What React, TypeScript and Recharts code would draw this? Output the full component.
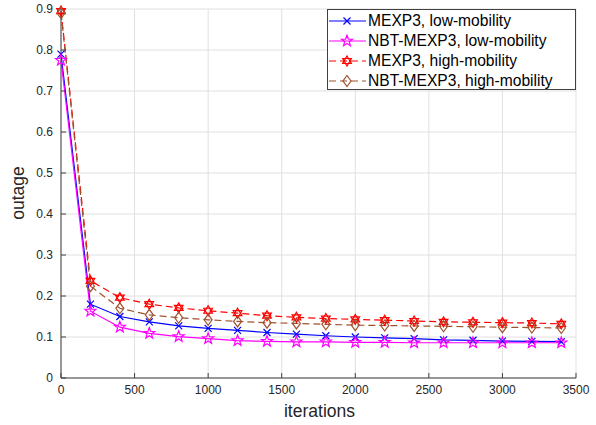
import React from 'react';
import { LineChart, Line, XAxis, YAxis, CartesianGrid } from 'recharts';

const iterations = [0, 200, 400, 600, 800, 1000, 1200, 1400, 1600, 1800, 2000, 2200, 2400, 2600, 2800, 3000, 3200, 3400];
const mexp3Low = [0.79, 0.18, 0.15, 0.137, 0.127, 0.121, 0.116, 0.111, 0.107, 0.103, 0.1, 0.098, 0.096, 0.093, 0.092, 0.09, 0.0895, 0.0885];
const nbtLow = [0.775, 0.163, 0.124, 0.109, 0.101, 0.096, 0.091, 0.0895, 0.088, 0.088, 0.087, 0.087, 0.086, 0.086, 0.086, 0.086, 0.086, 0.086];
const mexp3High = [0.895, 0.237, 0.196, 0.18, 0.171, 0.164, 0.158, 0.152, 0.148, 0.145, 0.143, 0.141, 0.139, 0.137, 0.136, 0.135, 0.134, 0.132];
const nbtHigh = [0.89, 0.224, 0.17, 0.154, 0.147, 0.142, 0.138, 0.135, 0.133, 0.131, 0.129, 0.128, 0.127, 0.126, 0.125, 0.124, 0.123, 0.122];

const xTicks = [0, 500, 1000, 1500, 2000, 2500, 3000, 3500];
const yTicks = [0, 0.1, 0.2, 0.3, 0.4, 0.5, 0.6, 0.7, 0.8, 0.9];

const data = iterations.map((it, i) => ({
    it,
    a: mexp3Low[i],
    b: nbtLow[i],
    c: mexp3High[i],
    d: nbtHigh[i],
}));

const AXIS = '#404040';
const FONT = '"Liberation Sans", Arial, sans-serif';

// marker shapes
const Cross = ({ cx, cy, color }: any) => (
    <path d={`M${cx - 3.5},${cy - 3.5}L${cx + 3.5},${cy + 3.5}M${cx - 3.5},${cy + 3.5}L${cx + 3.5},${cy - 3.5}`} stroke={color} strokeWidth={1.2} fill="none" />
);

const Pentagram = ({ cx, cy, color }: any) => {
    const pts: string[] = [];
    for (let i = 0; i < 10; i++) {
        const r = i % 2 ? 2.4 : 5.8;
        const a = (-90 + i * 36) * Math.PI / 180;
        pts.push(`${cx + r * Math.cos(a)},${cy + r * Math.sin(a)}`);
    }
    return <polygon points={pts.join(' ')} stroke={color} strokeWidth={1.2} fill="none" />;
};

const Hexagram = ({ cx, cy, color }: any) => {
    const tri = (off: number) => {
        const pts: string[] = [];
        for (let i = 0; i < 3; i++) {
            const a = (off + i * 120) * Math.PI / 180;
            pts.push(`${cx + 5 * Math.cos(a)},${cy + 5 * Math.sin(a)}`);
        }
        return pts.join(' ');
    };
    return (
        <g>
            <polygon points={tri(-90)} stroke={color} strokeWidth={1.2} fill="none" />
            <polygon points={tri(90)} stroke={color} strokeWidth={1.2} fill="none" />
        </g>
    );
};

const Diamond = ({ cx, cy, color }: any) => (
    <polygon points={`${cx},${cy - 5.5} ${cx + 4},${cy} ${cx},${cy + 5.5} ${cx - 4},${cy}`} stroke={color} strokeWidth={1.2} fill="none" />
);

const series = [
    { key: 'a', name: 'MEXP3, low-mobility', color: '#0000ff', dash: undefined, Marker: Cross },
    { key: 'b', name: 'NBT-MEXP3, low-mobility', color: '#ff00ff', dash: undefined, Marker: Pentagram },
    { key: 'c', name: 'MEXP3, high-mobility', color: '#ff0000', dash: '7 4', Marker: Hexagram },
    { key: 'd', name: 'NBT-MEXP3, high-mobility', color: '#a0522d', dash: '7 4', Marker: Diamond },
];

const LegendBox = () => (
    <div style={{ position: 'absolute', left: 327, top: 9, width: 249, height: 81, boxSizing: 'border-box', border: `1px solid ${AXIS}`, background: '#fff', fontFamily: FONT }}>
        {series.map((s, i) => (
            <div key={s.key} style={{ position: 'absolute', left: 0, top: 1 + i * 20, height: 20, display: 'flex', alignItems: 'center' }}>
                <svg width={40} height={20}>
                    <line x1={1} y1={10} x2={38} y2={10} stroke={s.color} strokeWidth={1.2} strokeDasharray={s.dash} />
                    <s.Marker cx={19} cy={10} color={s.color} />
                </svg>
                <span style={{ fontSize: 15.6, color: '#000', whiteSpace: 'nowrap' }}>{s.name}</span>
            </div>
        ))}
    </div>
);

export default function App() {
    return (
        <div style={{ position: 'relative', width: 596, height: 425, background: '#fff' }}>
            <style>{'body{margin:0}'}</style>
            <LineChart width={596} height={425} data={data} margin={{ top: 9, right: 20, bottom: 0, left: 0 }}>
                <CartesianGrid stroke="#e0e0e0" strokeWidth={1} />
                <XAxis dataKey="it" type="number" domain={[0, 3500]} ticks={xTicks} height={47}
                    stroke={AXIS} tickSize={-5} tickMargin={12}
                    tick={{ fill: '#262626', fontSize: 12, fontFamily: FONT }} interval={0} />
                <XAxis xAxisId="top" orientation="top" dataKey="it" type="number" domain={[0, 3500]} ticks={xTicks} height={0}
                    stroke={AXIS} tickSize={-5} tickFormatter={() => ''} />
                <YAxis type="number" domain={[0, 0.9]} ticks={yTicks} width={61}
                    stroke={AXIS} tickSize={-5} tickMargin={13}
                    tick={{ fill: '#262626', fontSize: 12, fontFamily: FONT }} interval={0} />
                <YAxis yAxisId="right" orientation="right" type="number" domain={[0, 0.9]} ticks={yTicks} width={0}
                    stroke={AXIS} tickSize={-5} tickFormatter={() => ''} />
                {series.map((s) => (
                    <Line key={s.key} dataKey={s.key} type="linear" stroke={s.color} strokeWidth={1.2}
                        strokeDasharray={s.dash} isAnimationActive={false}
                        dot={(p: any) => <s.Marker key={`${s.key}-${p.index}`} cx={p.cx} cy={p.cy} color={s.color} />} />
                ))}
            </LineChart>
            <div style={{ position: 'absolute', left: 0, top: 401, width: 596, paddingLeft: 43, boxSizing: 'border-box', textAlign: 'center', fontFamily: FONT, fontSize: 17.5, color: '#262626' }}>
                iterations
            </div>
            <div style={{ position: 'absolute', left: 18, top: 193, transform: 'translate(-50%, -50%) rotate(-90deg)', fontFamily: FONT, fontSize: 17.5, color: '#262626' }}>
                outage
            </div>
            <LegendBox />
        </div>
    );
}
